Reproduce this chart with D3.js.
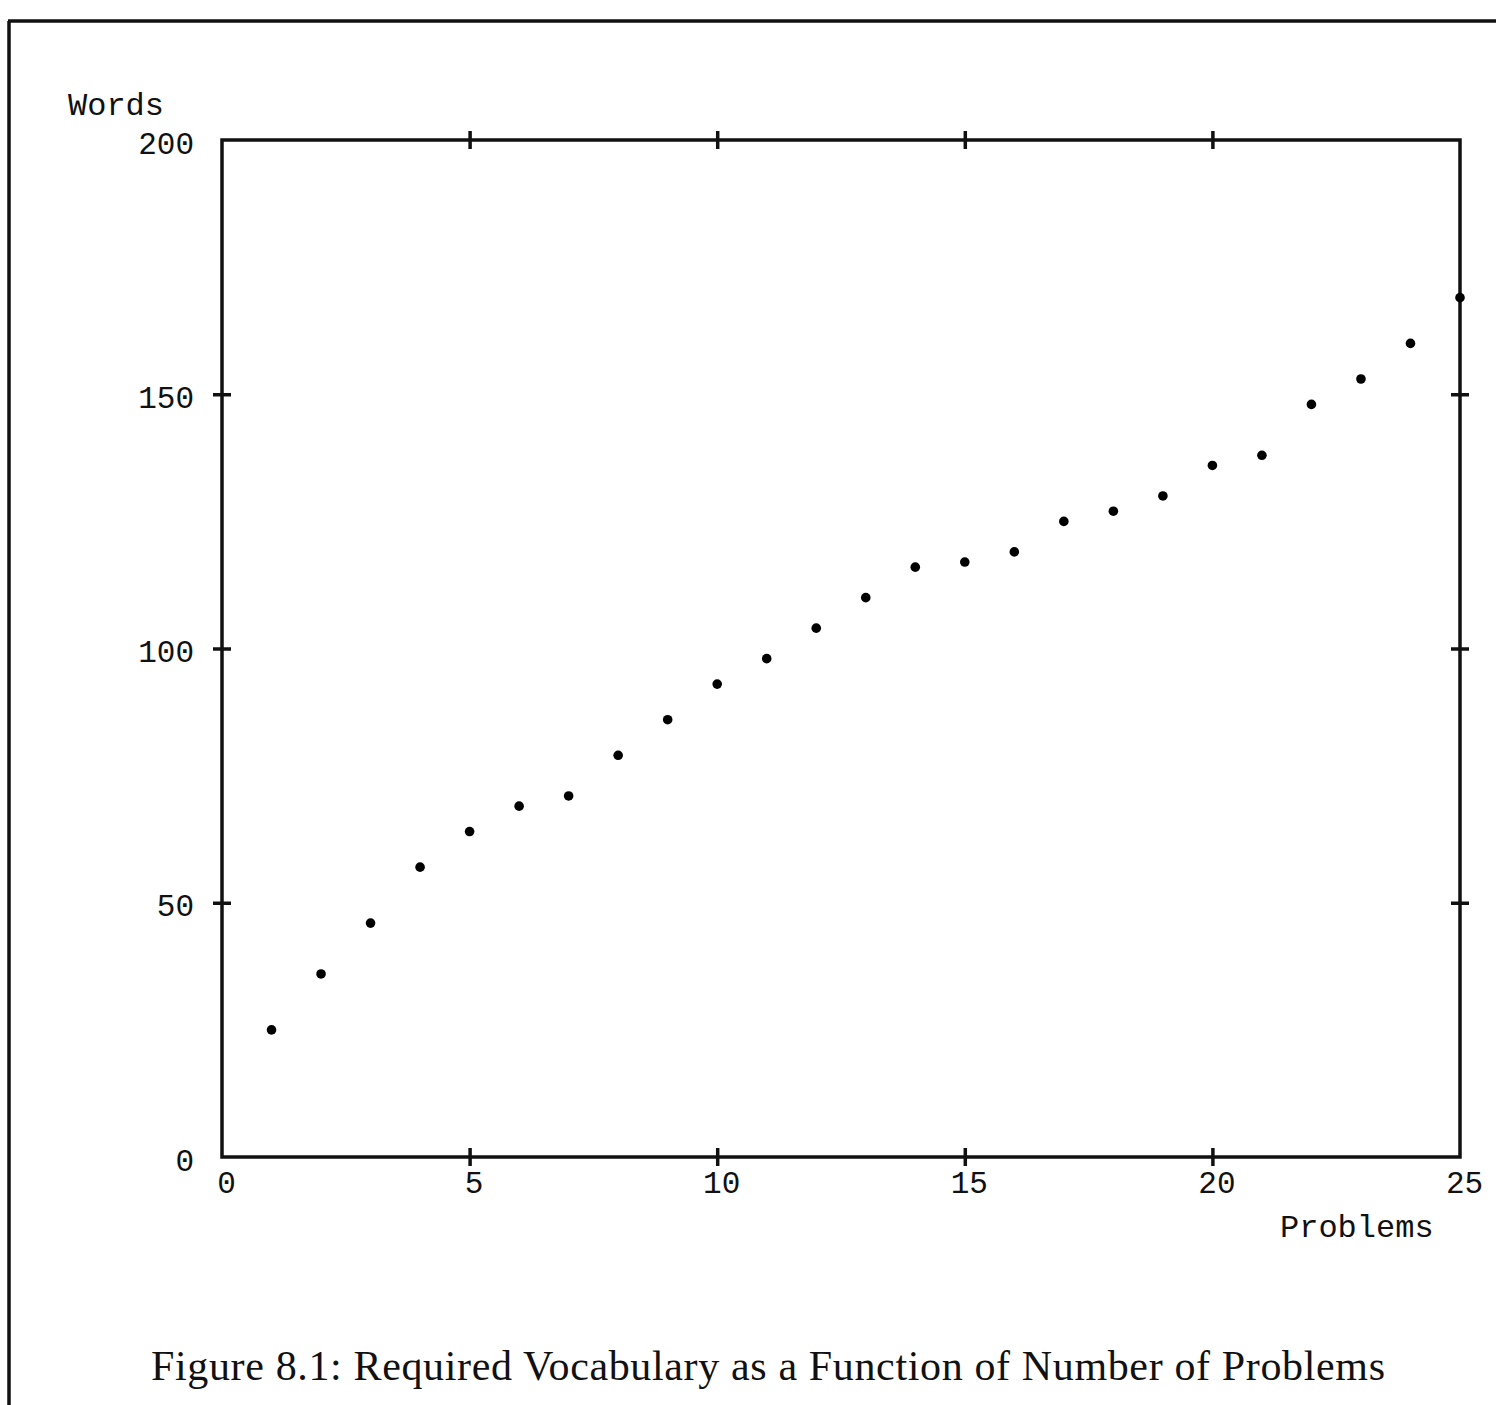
<!DOCTYPE html>
<html>
<head>
<meta charset="utf-8">
<script src="https://cdn.jsdelivr.net/npm/d3@7"></script>
<style>
	body { margin:0; background:#fff; }
	svg { display:block; }
	.axis text { font-family:"Liberation Mono", monospace; font-size:31px; fill:#111; }
	.axis path, .axis line { stroke:#111; stroke-width:3.5; }
	.t_label { font-family:"Liberation Mono", monospace; font-size:32px; fill:#111; }
	.t_caption { font-family:"Liberation Serif", serif; font-size:42px; fill:#111; }
</style>
</head>
<body>
<svg width="1496" height="1405"></svg>
<script>

/* ----------------------------------------------------------
data
---------------------------------------------------------- */

var problems = [1,2,3,4,5,6,7,8,9,10,11,12,13,14,15,16,17,18,19,20,21,22,23,24,25];
var words = [25,36,46,57,64,69,71,79,86,93,98,104,110,116,117,119,125,127,130,136,138,148,153,160,169];
var xTicks = [0,5,10,15,20,25];
var yTicks = [0,50,100,150,200];

/* ----------------------------------------------------------
setting
---------------------------------------------------------- */

var svg = d3.select("svg");
var left = 222, right = 1460, top_ = 140, bottom = 1157;

var x = d3.scaleLinear().domain([0,25]).range([left,right]);
var y = d3.scaleLinear().domain([0,200]).range([bottom,top_]);

// page frame (scanned page edge)
svg.append("line").attr("x1",8).attr("y1",21).attr("x2",1496).attr("y2",21)
	.style("stroke","#111").style("stroke-width",3.5);
svg.append("line").attr("x1",9).attr("y1",21).attr("x2",9).attr("y2",1405)
	.style("stroke","#111").style("stroke-width",3.5);

// plot box
svg.append("rect").attr("x",left).attr("y",top_)
	.attr("width",right-left).attr("height",bottom-top_)
	.style("fill","none").style("stroke","#111").style("stroke-width",3.5);

//axis
function inner(v, dom){ return v != dom[0] && v != dom[1]; }

var gx = svg.append("g").attr("class","axis").attr("transform","translate(0,"+bottom+")")
	.call(d3.axisBottom(x).tickValues(xTicks).tickSize(8).tickPadding(0))
gx.select(".domain").remove();
gx.selectAll(".tick line").attr("y1",-9).attr("y2",9)
	.style("display",function(d){ return inner(d,x.domain()) ? null : "none"; });
gx.selectAll(".tick text").attr("x",4).attr("y",14).attr("dy","0.71em");

var gxTop = svg.append("g").attr("class","axis").attr("transform","translate(0,"+top_+")")
	.call(d3.axisTop(x).tickValues(xTicks.filter(function(d){ return inner(d,x.domain()); })).tickSize(8).tickFormat(""))
gxTop.select(".domain").remove();
gxTop.selectAll(".tick line").attr("y1",-9).attr("y2",9);

var gy = svg.append("g").attr("class","axis").attr("transform","translate("+left+",0)")
	.call(d3.axisLeft(y).tickValues(yTicks).tickSize(8))
gy.select(".domain").remove();
gy.selectAll(".tick line").attr("x1",-9).attr("x2",9)
	.style("display",function(d){ return inner(d,y.domain()) ? null : "none"; });
gy.selectAll(".tick text").attr("x",-28).attr("dy","0.42em");

var gyRight = svg.append("g").attr("class","axis").attr("transform","translate("+right+",0)")
	.call(d3.axisRight(y).tickValues(yTicks.filter(function(d){ return inner(d,y.domain()); })).tickSize(8).tickFormat(""))
gyRight.select(".domain").remove();
gyRight.selectAll(".tick line").attr("x1",-9).attr("x2",9);

//points
svg.append("g").selectAll("circle")
	.data(problems)
	.enter().append("circle")
	.attr("cx",function(d){ return x(d); })
	.attr("cy",function(d,i){ return y(words[i]); })
	.attr("r",4.8)
	.style("fill","#000");

//text
svg.append("text").attr("x",68).attr("y",115).attr("class","t_label").text("Words");
svg.append("text").attr("x",1280).attr("y",1237).attr("class","t_label").text("Problems");
svg.append("text").attr("x",151).attr("y",1380).attr("class","t_caption")
	.attr("textLength",1234).attr("lengthAdjust","spacing")
	.text("Figure 8.1: Required Vocabulary as a Function of Number of Problems");

</script>
</body>
</html>
